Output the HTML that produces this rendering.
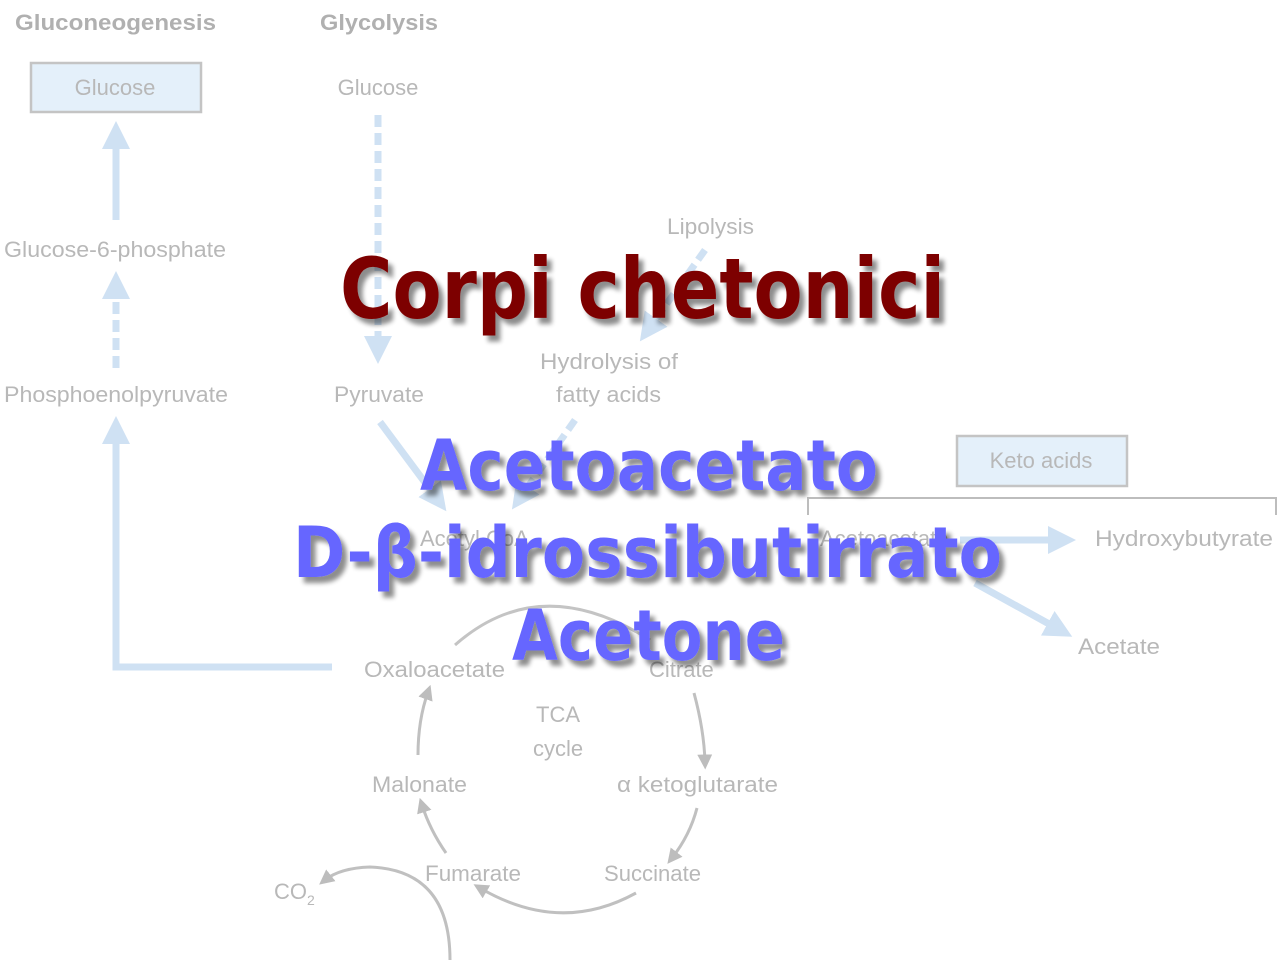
<!DOCTYPE html>
<html><head><meta charset="utf-8"><style>
html,body{margin:0;padding:0;background:#fff;}
svg{display:block;}
.t{font-family:"Liberation Sans",sans-serif;fill:#b8b8b8;font-size:22px;}
.h{font-family:"DejaVu Sans",sans-serif;font-weight:bold;}
</style></head><body>
<svg width="1280" height="960" viewBox="0 0 1280 960" xmlns="http://www.w3.org/2000/svg">
<defs>
<marker id="ab" viewBox="0 0 10 10" refX="5" refY="5" markerWidth="4" markerHeight="4" orient="auto"><path d="M0,0 L10,5 L0,10 z" fill="#cfe1f3"/></marker>
<marker id="ag" viewBox="0 0 10 10" refX="5" refY="5" markerWidth="5" markerHeight="5" orient="auto"><path d="M0,0 L10,5 L0,10 z" fill="#bdbdbd"/></marker>
<filter id="sh" x="-10%" y="-20%" width="130%" height="150%"><feGaussianBlur in="SourceAlpha" stdDeviation="2.5"/><feOffset dx="5" dy="6"/><feComponentTransfer><feFuncA type="linear" slope="0.45"/></feComponentTransfer><feMerge><feMergeNode/><feMergeNode in="SourceGraphic"/></feMerge></filter>
</defs>
<text x="15" y="30" class="t" style="font-weight:bold;fill:#b0b0b0" textLength="201" lengthAdjust="spacingAndGlyphs">Gluconeogenesis</text>
<text x="320" y="30" class="t" style="font-weight:bold;fill:#b0b0b0" textLength="118" lengthAdjust="spacingAndGlyphs">Glycolysis</text>
<rect x="31" y="63" width="170" height="49" fill="#e4f0fa" stroke="#c4c4c4" stroke-width="2.5"/>
<text x="115" y="95" class="t" text-anchor="middle">Glucose</text>
<text x="378" y="95" class="t" text-anchor="middle">Glucose</text>
<line x1="116" y1="220" x2="116" y2="135" stroke="#cfe1f3" stroke-width="7" marker-end="url(#ab)"/>
<text x="4" y="257" class="t" textLength="222" lengthAdjust="spacingAndGlyphs">Glucose-6-phosphate</text>
<line x1="116" y1="368" x2="116" y2="285" stroke="#cfe1f3" stroke-width="7" stroke-dasharray="12,6" marker-end="url(#ab)"/>
<text x="4" y="402" class="t" textLength="224" lengthAdjust="spacingAndGlyphs">Phosphoenolpyruvate</text>
<polyline points="332,667 116,667 116,430" fill="none" stroke="#cfe1f3" stroke-width="7" marker-end="url(#ab)"/>
<line x1="378" y1="115" x2="378" y2="350" stroke="#cfe1f3" stroke-width="7" stroke-dasharray="12,6" marker-end="url(#ab)"/>
<text x="334" y="402" class="t" textLength="90" lengthAdjust="spacingAndGlyphs">Pyruvate</text>
<text x="667" y="234" class="t" textLength="87" lengthAdjust="spacingAndGlyphs">Lipolysis</text>
<line x1="705" y1="250" x2="648" y2="330" stroke="#cfe1f3" stroke-width="7" stroke-dasharray="12,6" marker-end="url(#ab)"/>
<text x="540" y="369" class="t" textLength="138" lengthAdjust="spacingAndGlyphs">Hydrolysis of</text>
<text x="556" y="402" class="t" textLength="105" lengthAdjust="spacingAndGlyphs">fatty acids</text>
<line x1="380" y1="422" x2="438" y2="500" stroke="#cfe1f3" stroke-width="7" marker-end="url(#ab)"/>
<line x1="575" y1="420" x2="520" y2="498" stroke="#cfe1f3" stroke-width="7" stroke-dasharray="12,6" marker-end="url(#ab)"/>
<text x="420" y="546" class="t">Acetyl CoA</text>
<text x="820" y="546" class="t">Acetoacetate</text>
<line x1="960" y1="540" x2="1062" y2="540" stroke="#cfe1f3" stroke-width="7" marker-end="url(#ab)"/>
<line x1="975" y1="583" x2="1060" y2="630" stroke="#cfe1f3" stroke-width="7" marker-end="url(#ab)"/>
<rect x="957" y="436" width="170" height="50" fill="#e4f0fa" stroke="#c4c4c4" stroke-width="2.5"/>
<text x="1041" y="468" class="t" text-anchor="middle">Keto acids</text>
<polyline points="808,515 808,498 1276,498 1276,515" fill="none" stroke="#bdbdbd" stroke-width="2"/>
<text x="1095" y="546" class="t" textLength="178" lengthAdjust="spacingAndGlyphs">Hydroxybutyrate</text>
<text x="1078" y="654" class="t" textLength="82" lengthAdjust="spacingAndGlyphs">Acetate</text>
<path d="M455,645 Q540,570 650,640" fill="none" stroke="#c4c4c4" stroke-width="3"/>
<text x="364" y="677" class="t" textLength="141" lengthAdjust="spacingAndGlyphs">Oxaloacetate</text>
<text x="649" y="677" class="t">Citrate</text>
<text x="558" y="722" class="t" text-anchor="middle">TCA</text>
<text x="558" y="756" class="t" text-anchor="middle">cycle</text>
<path d="M418,755 Q418,720 428,692" fill="none" stroke="#c0c0c0" stroke-width="3" marker-end="url(#ag)"/>
<path d="M694,693 Q704,730 705,762" fill="none" stroke="#c0c0c0" stroke-width="3" marker-end="url(#ag)"/>
<text x="372" y="792" class="t" textLength="95" lengthAdjust="spacingAndGlyphs">Malonate</text>
<text x="617" y="792" class="t" textLength="161" lengthAdjust="spacingAndGlyphs">α ketoglutarate</text>
<path d="M446,853 Q430,830 422,805" fill="none" stroke="#c0c0c0" stroke-width="3" marker-end="url(#ag)"/>
<path d="M697,808 Q690,835 672,858" fill="none" stroke="#c0c0c0" stroke-width="3" marker-end="url(#ag)"/>
<text x="425" y="881" class="t" textLength="96" lengthAdjust="spacingAndGlyphs">Fumarate</text>
<text x="604" y="881" class="t" textLength="97" lengthAdjust="spacingAndGlyphs">Succinate</text>
<path d="M636,893 Q560,935 480,888" fill="none" stroke="#c0c0c0" stroke-width="3" marker-end="url(#ag)"/>
<path d="M450,960 Q450,870 370,867 Q340,868 325,880" fill="none" stroke="#c0c0c0" stroke-width="3" marker-end="url(#ag)"/>
<text x="274" y="899" class="t">CO<tspan font-size="14" dy="6">2</tspan></text>
<g filter="url(#sh)" class="h">
<text x="340" y="318" font-size="84" fill="#7d0000" textLength="605" lengthAdjust="spacingAndGlyphs">Corpi chetonici</text>
<text x="420" y="490" font-size="70" fill="#6666ff" textLength="458" lengthAdjust="spacingAndGlyphs">Acetoacetato</text>
<text x="293" y="577" font-size="70" fill="#6666ff" textLength="709" lengthAdjust="spacingAndGlyphs">D-β-idrossibutirrato</text>
<text x="512" y="660" font-size="70" fill="#6666ff" textLength="273" lengthAdjust="spacingAndGlyphs">Acetone</text>
</g>
</svg>
</body></html>
